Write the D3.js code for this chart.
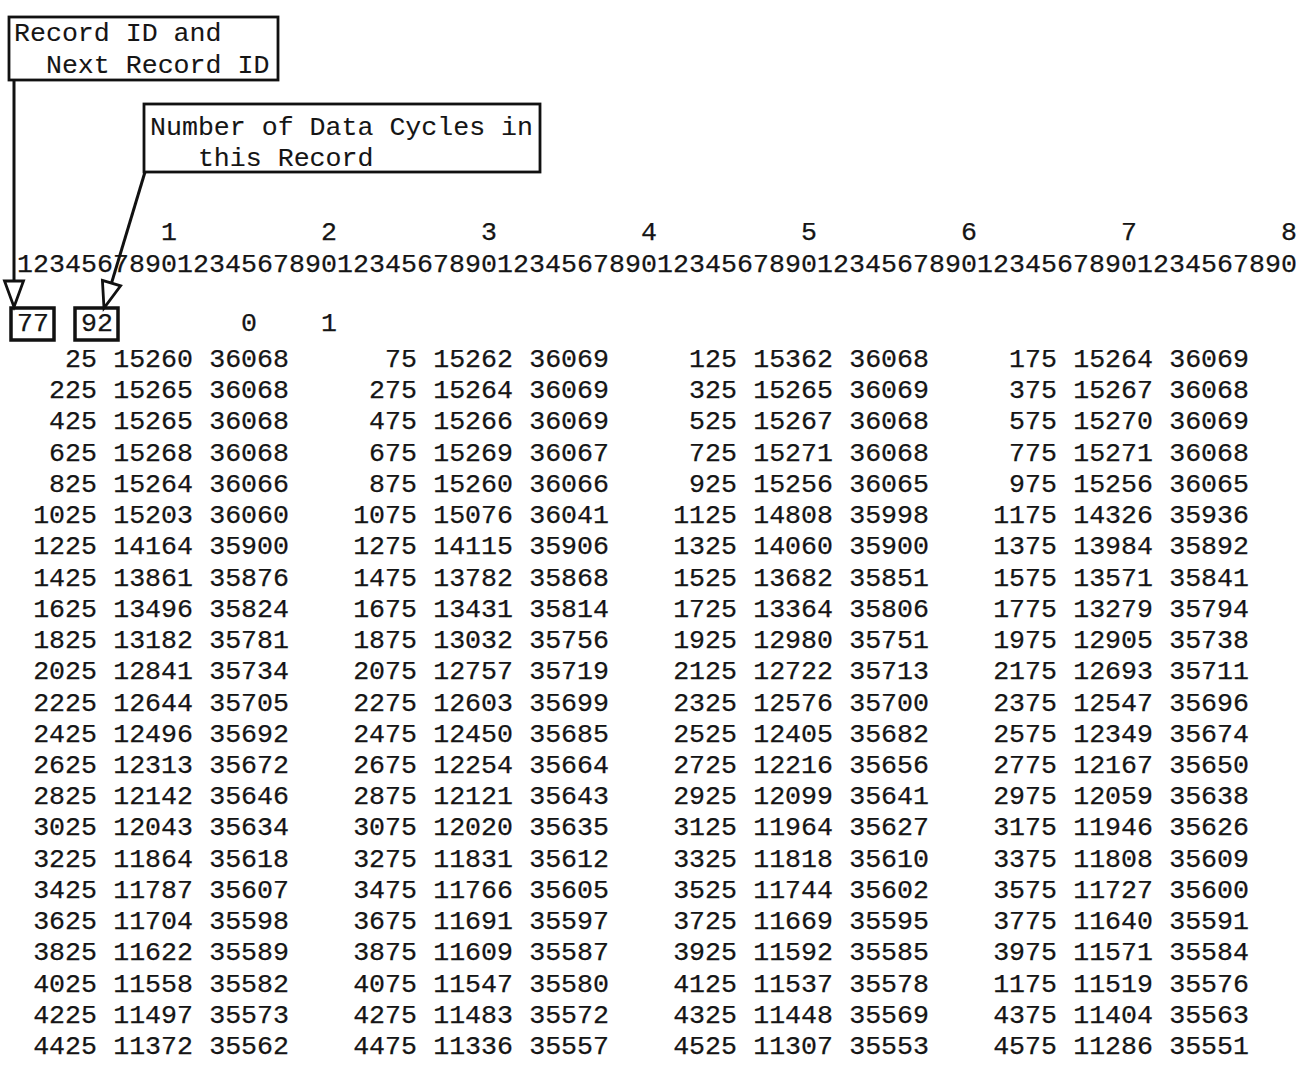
<!DOCTYPE html>
<html><head><meta charset="utf-8">
<script src="https://cdn.jsdelivr.net/npm/d3@7/dist/d3.min.js"></script>
<style>
html,body{margin:0;padding:0;background:#fff}
svg{display:block}
text{font-family:"Liberation Mono","Courier New",monospace;font-size:26.6px;fill:#151515;stroke:#151515;stroke-width:0.25px;white-space:pre}
text.label{stroke-width:0.1px}
</style>
</head><body>
<svg id="chart" width="1308" height="1075"></svg>
<script>
// ---------- data ----------
const recordId = "77";
const dataCycles = "92";
const headerFlags = ["0", "1"];
const calloutRecord = ["Record ID and", "  Next Record ID"];
const calloutCycles = ["Number of Data Cycles in", "   this Record"];
const rulerTens = ["1", "2", "3", "4", "5", "6", "7", "8"];
const rulerDigits = "12345678901234567890123456789012345678901234567890123456789012345678901234567890";

const times = [
  25, 75, 125, 175, 225, 275, 325, 375, 425, 475, 525, 575, 625, 675, 725, 775,
  825, 875, 925, 975, 1025, 1075, 1125, 1175, 1225, 1275, 1325, 1375, 1425, 1475, 1525, 1575,
  1625, 1675, 1725, 1775, 1825, 1875, 1925, 1975, 2025, 2075, 2125, 2175, 2225, 2275, 2325, 2375,
  2425, 2475, 2525, 2575, 2625, 2675, 2725, 2775, 2825, 2875, 2925, 2975, 3025, 3075, 3125, 3175,
  3225, 3275, 3325, 3375, 3425, 3475, 3525, 3575, 3625, 3675, 3725, 3775, 3825, 3875, 3925, 3975,
  4025, 4075, 4125, 1175, 4225, 4275, 4325, 4375, 4425, 4475, 4525, 4575
];
const channelA = [
  15260, 15262, 15362, 15264, 15265, 15264, 15265, 15267, 15265, 15266, 15267, 15270, 15268, 15269, 15271, 15271,
  15264, 15260, 15256, 15256, 15203, 15076, 14808, 14326, 14164, 14115, 14060, 13984, 13861, 13782, 13682, 13571,
  13496, 13431, 13364, 13279, 13182, 13032, 12980, 12905, 12841, 12757, 12722, 12693, 12644, 12603, 12576, 12547,
  12496, 12450, 12405, 12349, 12313, 12254, 12216, 12167, 12142, 12121, 12099, 12059, 12043, 12020, 11964, 11946,
  11864, 11831, 11818, 11808, 11787, 11766, 11744, 11727, 11704, 11691, 11669, 11640, 11622, 11609, 11592, 11571,
  11558, 11547, 11537, 11519, 11497, 11483, 11448, 11404, 11372, 11336, 11307, 11286
];
const channelB = [
  36068, 36069, 36068, 36069, 36068, 36069, 36069, 36068, 36068, 36069, 36068, 36069, 36068, 36067, 36068, 36068,
  36066, 36066, 36065, 36065, 36060, 36041, 35998, 35936, 35900, 35906, 35900, 35892, 35876, 35868, 35851, 35841,
  35824, 35814, 35806, 35794, 35781, 35756, 35751, 35738, 35734, 35719, 35713, 35711, 35705, 35699, 35700, 35696,
  35692, 35685, 35682, 35674, 35672, 35664, 35656, 35650, 35646, 35643, 35641, 35638, 35634, 35635, 35627, 35626,
  35618, 35612, 35610, 35609, 35607, 35605, 35602, 35600, 35598, 35597, 35595, 35591, 35589, 35587, 35585, 35584,
  35582, 35580, 35578, 35576, 35573, 35572, 35569, 35563, 35562, 35557, 35553, 35551
];

// ---------- layout ----------
const svg = d3.select("#chart");
const groupsPerRow = 4, groupWidth = 20;
const nRows = Math.ceil(times.length / groupsPerRow);

// column boundary k (right edge of character k) -> x
const col = d3.scaleLinear().domain([0, 80]).range([17, 1297]);
// data row index -> baseline y
const row = d3.scaleLinear().domain([0, nRows - 1]).range([367, 1054]);

// ruler
svg.append("g").selectAll("text").data(rulerTens).join("text")
  .attr("x", (d, i) => col((i + 1) * 10)).attr("y", 240)
  .attr("text-anchor", "end").text(d => d);
svg.append("text").attr("x", col(0)).attr("y", 272)
  .attr("textLength", col(80) - col(0)).attr("lengthAdjust", "spacing")
  .text(rulerDigits);

// header line
const header = [
  {t: recordId, end: 2, boxed: true},
  {t: dataCycles, end: 6, boxed: true},
  {t: headerFlags[0], end: 15, boxed: false},
  {t: headerFlags[1], end: 20, boxed: false}
];
const hg = svg.append("g");
hg.selectAll("text").data(header).join("text")
  .attr("x", d => col(d.end)).attr("y", 331).attr("text-anchor", "end").text(d => d.t);
hg.selectAll("rect").data(header.filter(d => d.boxed)).join("rect")
  .attr("x", d => col(d.end - d.t.length) - 6)
  .attr("y", 308)
  .attr("width", d => d.t.length * (col(1) - col(0)) + 11)
  .attr("height", 32)
  .attr("fill", "none").attr("stroke", "#111").attr("stroke-width", 3.5);

// data cycles
const records = times.map((t, i) => ({t, a: channelA[i], b: channelB[i], r: Math.floor(i / groupsPerRow), g: i % groupsPerRow}));
const fields = [
  {key: "t", end: 5},
  {key: "a", end: 11},
  {key: "b", end: 17}
];
const dg = svg.append("g");
fields.forEach(f => {
  dg.append("g").selectAll("text").data(records).join("text")
    .attr("x", d => col(f.end + d.g * groupWidth))
    .attr("y", d => row(d.r))
    .attr("text-anchor", "end")
    .text(d => String(d[f.key]));
});

// callouts
function callout(lines, x, y, w, h, tx, ty, lh) {
  const g = svg.append("g");
  g.append("rect").attr("x", x).attr("y", y).attr("width", w).attr("height", h)
    .attr("fill", "#fff").attr("stroke", "#111").attr("stroke-width", 2.8);
  g.selectAll("text").data(lines).join("text")
    .attr("class", "label")
    .attr("xml:space", "preserve")
    .attr("x", tx).attr("y", (d, i) => ty + i * lh).text(d => d);
}
callout(calloutRecord, 9, 17, 269, 63, 14, 41, 32);
callout(calloutCycles, 144, 104, 396, 68, 150, 135, 31);

// arrows
function arrow(x1, y1, x2, y2) {
  const dx = x2 - x1, dy = y2 - y1, L = Math.hypot(dx, dy);
  const ux = dx / L, uy = dy / L, px = -uy, py = ux;
  const head = 26, half = 9.5;
  const bx = x2 - ux * head, by = y2 - uy * head;
  svg.append("line").attr("x1", x1).attr("y1", y1).attr("x2", bx).attr("y2", by)
    .attr("stroke", "#111").attr("stroke-width", 3);
  svg.append("path")
    .attr("d", d3.line()([[bx + px * half, by + py * half], [bx - px * half, by - py * half], [x2, y2]]) + "Z")
    .attr("fill", "#fff").attr("stroke", "#111").attr("stroke-width", 2.8).attr("stroke-linejoin", "miter");
}
arrow(14, 80, 14, 307);
arrow(145, 172, 104, 308);
</script>
</body></html>
